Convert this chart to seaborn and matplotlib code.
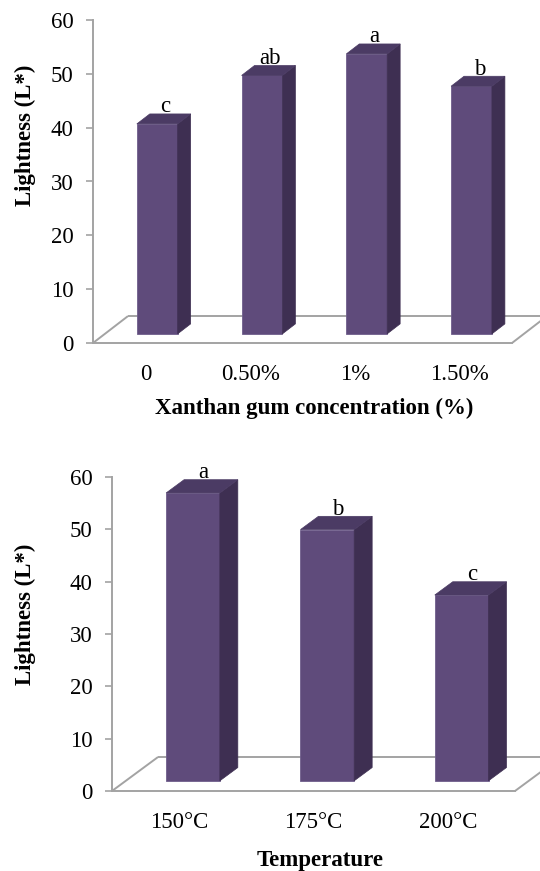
import matplotlib
matplotlib.use("Agg")
import matplotlib.pyplot as plt
import seaborn as sns
from matplotlib.patches import Polygon

# ---------------- data ----------------
xg_categories = ["0", "0.50%", "1%", "1.50%"]
xg_lightness = [39.0, 48.0, 52.0, 46.0]
xg_letters = ["c", "ab", "a", "b"]

temp_categories = ["150\u00b0C", "175\u00b0C", "200\u00b0C"]
temp_lightness = [55.0, 48.0, 35.5]
temp_letters = ["a", "b", "c"]

y_ticks = [0, 10, 20, 30, 40, 50, 60]

# ---------------- style ----------------
sns.set_style("white")
plt.rcParams["font.family"] = ["Liberation Serif", "DejaVu Serif"]
plt.rcParams["text.color"] = "black"
plt.rcParams["axes.labelcolor"] = "black"
plt.rcParams["xtick.color"] = "black"
plt.rcParams["ytick.color"] = "black"

FRONT = "#5f4b7b"
SIDE = "#3e2f52"
TOP = "#4b3b64"
EDGE = "#6f5e8c"
GRID = "#a3a3a3"

fig = plt.figure(figsize=(5.4, 8.71), dpi=100)
W, H = 540.0, 871.0


def make_axes(x0, x1, ytop, ybot):
    return fig.add_axes([x0 / W, (H - ybot) / H, (x1 - x0) / W, (ybot - ytop) / H])


def draw_chart(ax, cats, vals, letters, depth_x, depth_y, bar_off, bar_depth,
               bar_width, xlabel, xlab_pos, ylab_pos):
    n = len(cats)
    sns.barplot(x=cats, y=vals, ax=ax, color=FRONT, width=bar_width,
                saturation=1, edgecolor=EDGE, linewidth=0.6, zorder=3)
    ax.set_xlim(-0.5, n - 0.5)
    ax.set_ylim(0, 60)
    ax.set_yticks(y_ticks)

    ox, oy = bar_off * depth_x, bar_off * depth_y
    bdx, bdy = bar_depth * depth_x, bar_depth * depth_y
    for p, v, lab in zip(ax.patches, vals, letters):
        p.set_x(p.get_x() + ox)
        p.set_y(oy)
        x0 = p.get_x()
        x1 = x0 + p.get_width()
        y0 = oy
        y1 = oy + v
        side = Polygon([(x1, y0), (x1 + bdx, y0 + bdy), (x1 + bdx, y1 + bdy), (x1, y1)],
                       closed=True, facecolor=SIDE, edgecolor=SIDE, lw=0.5, zorder=3)
        top = Polygon([(x0, y1), (x0 + bdx, y1 + bdy), (x1 + bdx, y1 + bdy), (x1, y1)],
                      closed=True, facecolor=TOP, edgecolor=TOP, lw=0.5, zorder=3)
        ax.add_patch(side)
        ax.add_patch(top)
        ax.text((x0 + x1) / 2 + bdx * 0.6, y1 + bdy + 0.3, lab, ha="center",
                va="baseline", fontsize=16.5, color="black", zorder=4, clip_on=False)

    # floor (3D base)
    xl, xr = -0.5, n - 0.5
    kw = dict(color=GRID, lw=1.4, clip_on=False, zorder=1, solid_capstyle="butt")
    ax.plot([xl, xl + depth_x], [0, depth_y], **kw)
    ax.plot([xl + depth_x, xr + depth_x + 1], [depth_y, depth_y], **kw)
    ax.plot([xr, xr + depth_x], [0, depth_y], **kw)

    for s in ["top", "right"]:
        ax.spines[s].set_visible(False)
    for s in ["left", "bottom"]:
        ax.spines[s].set_color(GRID)
        ax.spines[s].set_linewidth(1.4)

    ax.tick_params(axis="x", length=0, pad=15, labelsize=16.5, labelcolor="black")
    ax.tick_params(axis="y", direction="out", length=5, width=1.2, color=GRID,
                   pad=9, labelsize=16.5, labelcolor="black", left=True)

    ax.set_xlabel(xlabel, fontsize=16.5, fontweight="bold", color="black")
    ax.set_ylabel("Lightness (L*)", fontsize=16.5, fontweight="bold", color="black")
    ax.xaxis.set_label_coords(*xlab_pos)
    ax.xaxis.label.set_va("center")
    ax.yaxis.set_label_coords(*ylab_pos)
    ax.yaxis.label.set_va("center")
    ax.set_facecolor("none")


# top chart: axis x 93..512, y 20 (60) .. 343 (0)
ax1 = make_axes(93, 512, 20, 343)
draw_chart(ax1, xg_categories, xg_lightness, xg_letters,
           depth_x=0.334, depth_y=5.0, bar_off=0.34, bar_depth=0.37,
           bar_width=0.39, xlabel="Xanthan gum concentration (%)",
           xlab_pos=((314 - 93) / 419, -(408 - 343) / 323),
           ylab_pos=((25 - 93) / 419, (343 - 135) / 323))

# bottom chart: axis x 112..515, y 477 (60) .. 791 (0)
ax2 = make_axes(112, 515, 477, 791)
draw_chart(ax2, temp_categories, temp_lightness, temp_letters,
           depth_x=0.343, depth_y=6.5, bar_off=0.30, bar_depth=0.39,
           bar_width=0.40, xlabel="Temperature",
           xlab_pos=((320 - 112) / 403, -(860 - 791) / 314),
           ylab_pos=((25 - 112) / 403, (791 - 614) / 314))

fig.savefig("out.png", dpi=100, facecolor="white")
